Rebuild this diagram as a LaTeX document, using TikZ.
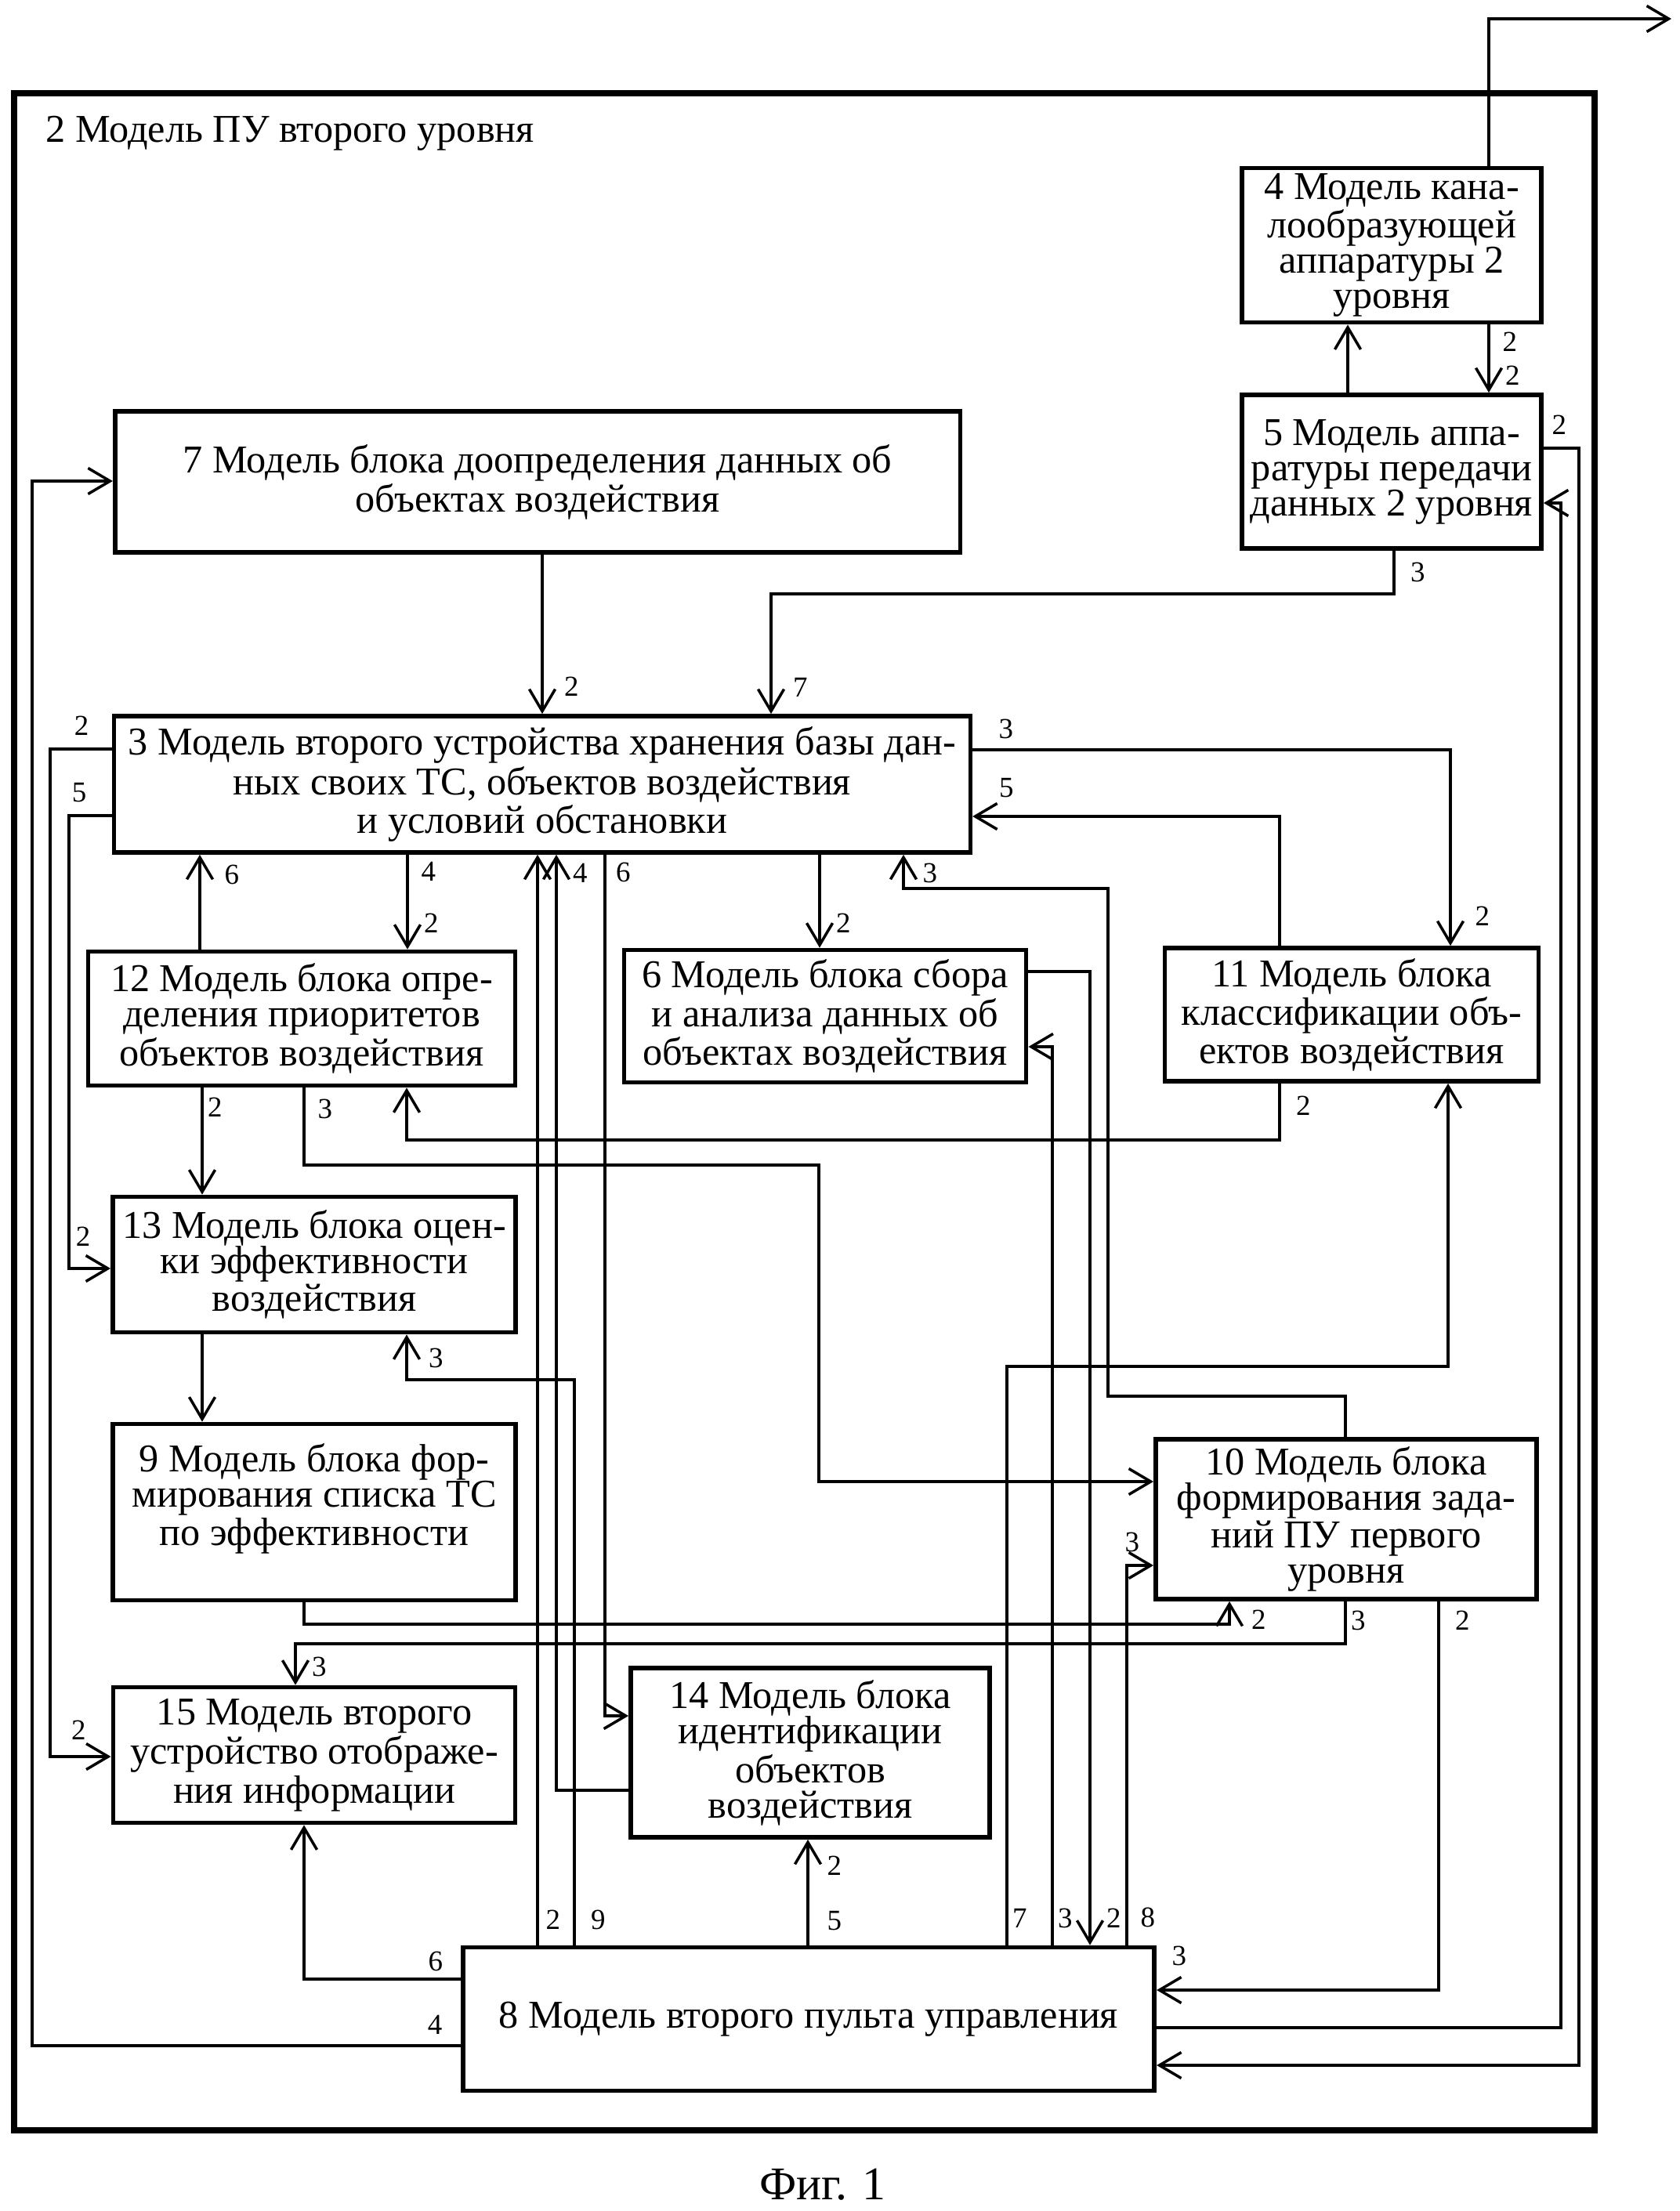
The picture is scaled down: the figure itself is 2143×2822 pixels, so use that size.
\documentclass[tikz,border=0pt]{standalone}
\usepackage{fontspec}
\setmainfont{Liberation Serif}
\usetikzlibrary{arrows.meta}
\newcommand{\boxsize}{\fontsize{14.3}{12.8}\selectfont}
\newcommand{\numsize}{\fontsize{10.5}{11}\selectfont}
\tikzstyle{block} = [rectangle, draw=black, line width=1.6pt, align=center, inner sep=2pt, font=\boxsize]
\tikzstyle{arrow} = [line width=1pt, -{Straight Barb[length=2.8mm, width=3.3mm]}]
\tikzstyle{num} = [font=\numsize, inner sep=1.5pt]

\begin{document}
\begin{tikzpicture}[x=0.01cm, y=-0.01cm]
\useasboundingbox (0,0) rectangle (2143,2822);

% outer frame
\draw[line width=2.2pt] (18,119) rectangle (2035,2719);
\node (title) [anchor=west, font=\boxsize] at (46,170) {2 Модель ПУ второго уровня};

% blocks
\node (b4) [block, minimum width=3.82cm, minimum height=1.93cm] at (1776,313) {4 Модель кана-\\лообразующей\\аппаратуры 2\\уровня};
\node (b5) [block, minimum width=3.82cm, minimum height=1.96cm] at (1776,602) {5 Модель аппа-\\ратуры передачи\\данных 2 уровня};
\node (b7) [block, minimum width=10.78cm, minimum height=1.80cm] at (686,615) {7 Модель блока доопределения данных об\\объектах воздействия};
\node (b3) [block, minimum width=10.92cm, minimum height=1.74cm] at (692,1001) {3 Модель второго устройства хранения базы дан-\\ных своих ТС, объектов воздействия\\и условий обстановки};
\node (b12) [block, minimum width=5.45cm, minimum height=1.71cm] at (385,1300) {12 Модель блока опре-\\деления приоритетов\\объектов воздействия};
\node (b6) [block, minimum width=5.13cm, minimum height=1.69cm] at (1053,1297) {6 Модель блока сбора\\и анализа данных об\\объектах воздействия};
\node (b11) [block, minimum width=4.77cm, minimum height=1.70cm] at (1725,1295) {11 Модель блока\\классификации объ-\\ектов воздействия};
\node (b13) [block, minimum width=5.14cm, minimum height=1.73cm] at (401,1614) {13 Модель блока оцен-\\ки эффективности\\воздействия};
\node (b9) [block, minimum width=5.14cm, minimum height=2.25cm] at (401,1930) {9 Модель блока фор-\\мирования списка ТС\\по эффективности\\ \mbox{}};
\node (b10) [block, minimum width=4.86cm, minimum height=2.04cm] at (1718,1939) {10 Модель блока\\формирования зада-\\ний ПУ первого\\уровня};
\node (b15) [block, minimum width=5.13cm, minimum height=1.73cm] at (401,2240) {15 Модель второго\\устройство отображе-\\ния информации};
\node (b14) [block, minimum width=4.58cm, minimum height=2.16cm] at (1034,2237) {14 Модель блока\\идентификации\\объектов\\воздействия};
\node (b8) [block, minimum width=8.82cm, minimum height=1.83cm] at (1032,2577) {8 Модель второго пульта управления};

\node (fig) [font=\fontsize{17}{20}\selectfont] at (1050,2788) {Фиг. 1};

% 4 -> outside
\coordinate (out) at (2133,24);
\draw[arrow] (b4.north -| 1900,0) |- (out);

% 4 <-> 5
\draw[arrow] (b5.north -| 1720,0) -- (b4.south -| 1720,0);
\draw[arrow] (b4.south -| 1900,0) -- node[num, pos=.25, right=3pt] {2} node[num, pos=.75, right=4pt] {2} (b5.north -| 1900,0);

% inputs of 3 from above
\draw[arrow] (b7.south -| 692,0) -- node[num, pos=.83, right=6pt] {2} (b3.north -| 692,0);
\draw[arrow] (b5.south -| 1779,0) -- node[num, pos=.5, right=4pt] {3} (1779,758) -- (984,758) -- node[num, pos=.78, right=6pt] {7} (b3.north -| 984,0);

% 3 <-> 11
\draw[arrow] (b3.east |- 0,957) -- node[num, pos=.07, above=2pt] {3} (1851,957) -- node[num, pos=.85, right=7pt] {2} (b11.north -| 1851,0);
\draw[arrow] (b11.north -| 1633,0) -- (1633,1042) -- node[num, pos=.89, above=5pt] {5} (b3.east |- 0,1042);

% left side
\draw[arrow] (b3.west |- 0,956) -- node[num, pos=.49, above=3pt] {2} (64,956) -- (64,2242) -- node[num, pos=.47, above=4pt] {2} (b15.west |- 0,2242);
\draw[arrow] (b3.west |- 0,1041) -- node[num, pos=.76, above=3pt] {5} (88,1041) -- (88,1619) -- node[num, pos=.34, above=6pt] {2} (b13.west |- 0,1619);
\draw[arrow] (b8.west |- 0,2611) -- node[num, pos=.06, above=2pt] {4} (41,2611) -- (41,614) -- (b7.west |- 0,614);

% 3 <-> 12
\draw[arrow] (b12.north -| 255,0) -- node[num, pos=.79, right=7pt] {6} (b3.south -| 255,0);
\draw[arrow] (b3.south -| 520,0) -- node[num, pos=.18, right=3pt] {4} node[num, pos=.72, right=4pt] {2} (b12.north -| 520,0);

% 3 <-> 8, 14
\draw[arrow] (b8.north -| 686,0) -- node[num, pos=.023, right=1pt] {2} (b3.south -| 686,0);
\draw[arrow] (b14.west |- 0,2285) -- (710,2285) -- node[num, pos=.98, right=4pt] {4} (b3.south -| 710,0);
\draw[arrow] (b3.south -| 772,0) -- node[num, pos=.021, right=2pt] {6} (772,2190) -- (b14.west |- 0,2190);

% 3 -> 6, 10 -> 3
\draw[arrow] (b3.south -| 1046,0) -- node[num, pos=.74, right=4pt] {2} (b6.north -| 1046,0);
\draw[arrow] (b10.north -| 1717,0) -- (1717,1782) -- (1414,1782) -- (1414,1134) -- (1153,1134) -- node[num, pos=.46, right=5pt] {3} (b3.south -| 1153,0);

% 6 <-> 8
\draw[arrow] (b6.east |- 0,1240) -- (1391,1240) -- node[num, pos=.972, right=4pt] {2} (b8.north -| 1391,0);
\draw[arrow] (b8.north -| 1343,0) -- node[num, pos=.03, right] {3} (1343,1336) -- (b6.east |- 0,1336);

% 11
\draw[arrow] (b11.south -| 1633,0) -- node[num, pos=.39, right=4pt] {2} (1633,1455) -- (519,1455) -- (b12.south -| 519,0);
\draw[arrow] (b8.north -| 1285,0) -- node[num, pos=.047, right] {7} (1285,1744) -- (1848,1744) -- (b11.south -| 1848,0);

% 12, 13, 9
\draw[arrow] (b12.south -| 258,0) -- node[num, pos=.18, right] {2} (b13.north -| 258,0);
\draw[arrow] (b13.south -| 258,0) -- (b9.north -| 258,0);
\draw[arrow] (b12.south -| 388,0) -- node[num, pos=.27, right=3pt] {3} (388,1487) -- (1045,1487) -- (1045,1891) -- (b10.west |- 0,1891);
\draw[arrow] (b8.north -| 733,0) -- node[num, pos=.044, right=4pt] {9} (733,1761) -- (519,1761) -- node[num, pos=.47, right=6pt] {3} (b13.south -| 519,0);
\draw[arrow] (b9.south -| 388,0) -- (388,2073) -- (1569,2073) -- node[num, pos=.2, right=6pt] {2} (b10.south -| 1569,0);

% 10
\draw[arrow] (b10.south -| 1717,0) -- node[num, pos=.45, right] {3} (1717,2098) -- (377,2098) -- node[num, pos=.55, right=4pt] {3} (b15.north -| 377,0);
\draw[arrow] (b10.south -| 1836,0) -- node[num, pos=.05, right=4pt] {2} (1836,2540) -- node[num, pos=.92, above=7pt] {3} (b8.east |- 0,2540);
\draw[arrow] (b8.north -| 1438,0) -- node[num, pos=.072, right=3pt] {8} (1438,1998) -- node[num, pos=.2, above=3pt] {3} (b10.west |- 0,1998);

% 8 -> 15, 14
\draw[arrow] (b8.west |- 0,2526) -- node[num, pos=.16, above=1pt] {6} (388,2526) -- (b15.south -| 388,0);
\draw[arrow] (b8.north -| 1031,0) -- node[num, pos=.23, right=5pt] {5} node[num, pos=.75, right=5pt] {2} (b14.south -| 1031,0);

% 8 <-> 5
\draw[arrow] (b8.east |- 0,2588) -- (1992,2588) -- (1992,642) -- (b5.east |- 0,642);
\draw[arrow] (b5.east |- 0,572) -- node[num, pos=.44, above=3pt] {2} (2015,572) -- (2015,2636) -- (b8.east |- 0,2636);

\end{tikzpicture}
\end{document}
